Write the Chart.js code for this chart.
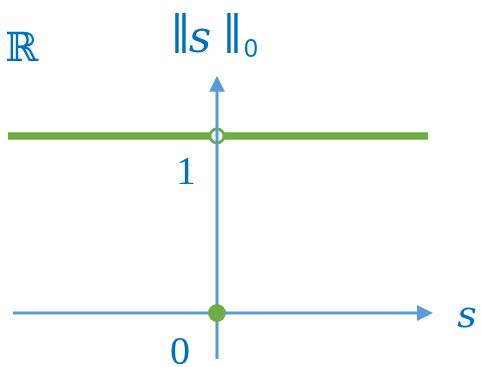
<!DOCTYPE html>
<html>
<head>
<meta charset="utf-8">
<script src="https://cdn.jsdelivr.net/npm/chart.js@4"></script>
<style>
  html, body { margin: 0; padding: 0; background: #fff; }
  canvas { display: block; }
</style>
</head>
<body>
<canvas id="l0norm" width="481" height="367"></canvas>
<script>
// ||s||_0 : 1 everywhere except s = 0, where it is 0
const stepXs = [-2.09, 2.11];
const stepLevel = 1;
const holePoint = { x: 0, y: 1 };
const zeroPoint = { x: 0, y: 0 };

// axis extents (in s / value units)
const axisX = [-2.04, 2.16];
const axisY = [-0.26, 1.34];
const tickVals = [0, 1];

const BLUE = '#5B9BD5';
const TEXT = '#0070C0';
const GREEN = '#70AD47';

function arrow(c, x, y, dx, dy) {
  const len = 16, half = 8;
  c.beginPath();
  c.moveTo(x, y);
  c.lineTo(x - dx * len - dy * half, y - dy * len + dx * half);
  c.lineTo(x - dx * len + dy * half, y - dy * len - dx * half);
  c.closePath();
  c.fill();
}

const axesPlugin = {
  id: 'axes',
  beforeDatasetDraw(chart, args) {
    if (args.index !== 2) return;
    const c = chart.ctx, sx = chart.scales.x, sy = chart.scales.y;
    const x0 = sx.getPixelForValue(0), y0 = sy.getPixelForValue(0);
    c.save();
    c.strokeStyle = BLUE;
    c.fillStyle = BLUE;
    c.lineWidth = 3;
    // horizontal axis
    const xl = sx.getPixelForValue(axisX[0]), xr = sx.getPixelForValue(axisX[1]);
    c.beginPath();
    c.moveTo(xl, y0);
    c.lineTo(xr - 10, y0);
    c.stroke();
    arrow(c, xr, y0, 1, 0);
    // vertical axis
    const yb = sy.getPixelForValue(axisY[0]), yt = sy.getPixelForValue(axisY[1]);
    c.beginPath();
    c.moveTo(x0, yb);
    c.lineTo(x0, yt + 10);
    c.stroke();
    arrow(c, x0, yt, 0, -1);
    c.restore();
  },
  afterDraw(chart) {
    const c = chart.ctx, sx = chart.scales.x, sy = chart.scales.y;
    const x0 = sx.getPixelForValue(0);
    c.save();
    c.fillStyle = TEXT;
    c.textAlign = 'center';
    c.textBaseline = 'alphabetic';
    // tick labels
    c.font = '40px "Liberation Serif", serif';
    tickVals.forEach(v => {
      const y = sy.getPixelForValue(v);
      c.fillText(String(v), x0 - (v === 0 ? 37 : 31), y + (v === 0 ? 51 : 48));
    });
    // axis names
    c.font = 'italic 38px "DejaVu Serif", serif';
    c.fillText('s', sx.getPixelForValue(axisX[1]) + 34, sy.getPixelForValue(0) + 14);
    const yt = sy.getPixelForValue(axisY[1]);
    c.font = '42px "Liberation Sans", sans-serif';
    [-40, -33, 12, 19].forEach(dx => c.fillText('|', x0 + dx, yt - 32));
    c.font = 'italic 44px "DejaVu Serif", serif';
    c.fillText('s', x0 - 17, yt - 24);
    c.font = '25px "Liberation Sans", sans-serif';
    c.fillText('0', x0 + 34, yt - 19);
    c.font = '40px "DejaVu Serif", serif';
    c.textAlign = 'left';
    c.fillText('\u211D', 5, 61);
    c.restore();
  }
};

new Chart(document.getElementById('l0norm'), {
  type: 'scatter',
  data: {
    datasets: [
      {
        label: 'step',
        data: stepXs.map(x => ({ x: x, y: stepLevel })),
        showLine: true,
        borderColor: GREEN,
        borderWidth: 7.5,
        pointRadius: 0,
        order: 3
      },
      {
        label: 'hole',
        data: [holePoint],
        pointRadius: 7,
        pointBorderWidth: 3,
        pointBorderColor: GREEN,
        pointBackgroundColor: '#fff',
        order: 2
      },
      {
        label: 'zero',
        data: [zeroPoint],
        pointRadius: 9,
        pointBorderWidth: 0,
        pointBackgroundColor: GREEN,
        order: 1
      }
    ]
  },
  options: {
    responsive: false,
    animation: false,
    layout: { padding: 0, autoPadding: false },
    plugins: { legend: { display: false }, tooltip: { enabled: false } },
    scales: {
      x: { type: 'linear', min: -2.17, max: 2.64, display: false },
      y: { type: 'linear', min: -0.305, max: 1.768, display: false }
    }
  },
  plugins: [axesPlugin]
});
</script>
</body>
</html>
